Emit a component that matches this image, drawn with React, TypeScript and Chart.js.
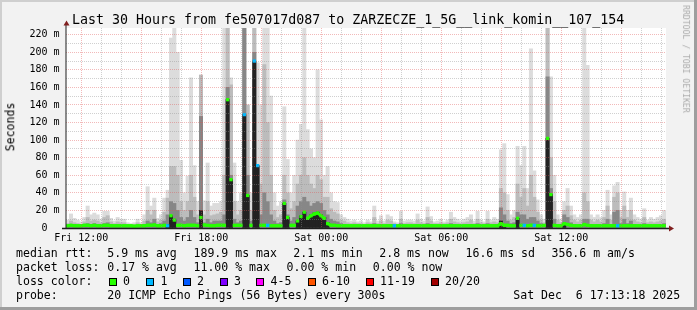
import React, { useEffect, useRef } from 'react';
import { Chart, registerables } from 'chart.js';

Chart.register(...registerables);

const MONO = '"DejaVu Sans Mono", "Liberation Mono", monospace';

const TITLE = 'Last 30 Hours from fe507017d087 to ZARZECZE_1_5G__link_komin__107_154';

// time axis (hours since Fri 00:00), 10-minute bins
const startHour = 11.235;
const endHour = 41.24;
const binHours = 1 / 6;

// smoke: top of the lightest band (max ping), in ms
const sLight = [
  9, 16, 11, 9, 7, 12, 25, 15, 17, 15,
  10, 19, 19, 11, 8, 12, 10, 10, 6, 5,
  6, 10, 6, 15, 47, 25, 34, 11, 15, 34,
  43, 216, 250, 200, 77, 40, 59, 171, 71, 30,
  174, 31, 74, 25, 28, 28, 30, 250, 250, 171,
  74, 30, 40, 250, 140, 40, 250, 188, 140, 250,
  250, 150, 40, 25, 30, 138, 78, 40, 60, 100,
  118, 250, 112, 90, 80, 180, 123, 60, 70, 40,
  30, 29, 15, 12, 10, 8, 9, 7, 8, 6,
  9, 7, 25, 8, 14, 8, 15, 13, 7, 6,
  19, 8, 9, 9, 8, 16, 10, 8, 24, 13,
  7, 8, 10, 7, 9, 18, 12, 10, 8, 10,
  12, 15, 8, 19, 9, 7, 19, 9, 12, 10,
  89, 96, 38, 15, 20, 93, 71, 93, 45, 204,
  65, 32, 15, 10, 250, 172, 60, 15, 10, 30,
  45, 25, 15, 12, 15, 250, 185, 15, 12, 15,
  12, 20, 43, 15, 48, 52, 20, 41, 20, 34,
  15, 12, 10, 22, 9, 12, 10, 12, 14, 20,
];

// smoke: medium band
const sMid = [
  5, 8, 6, 5, 4, 7, 12, 8, 9, 8,
  6, 12, 14, 7, 5, 7, 6, 6, 4, 4,
  4, 6, 4, 8, 20, 15, 20, 7, 9, 18,
  34, 70, 70, 60, 30, 20, 30, 60, 35, 15,
  174, 15, 30, 14, 15, 16, 18, 60, 250, 163,
  30, 15, 20, 250, 140, 20, 250, 70, 50, 186,
  120, 60, 20, 12, 15, 60, 40, 22, 30, 50,
  60, 80, 60, 50, 45, 60, 55, 35, 35, 22,
  18, 16, 9, 8, 6, 5, 6, 5, 5, 4,
  6, 5, 12, 5, 8, 5, 9, 8, 5, 4,
  10, 5, 6, 6, 5, 9, 6, 5, 12, 8,
  5, 5, 6, 5, 6, 10, 7, 6, 5, 6,
  7, 9, 5, 10, 6, 5, 10, 6, 7, 6,
  45, 40, 20, 9, 12, 50, 35, 45, 25, 60,
  35, 18, 9, 6, 250, 80, 30, 9, 6, 20,
  25, 14, 9, 7, 9, 40, 30, 9, 7, 9,
  7, 12, 25, 9, 35, 40, 12, 25, 12, 20,
  9, 7, 6, 12, 6, 7, 6, 7, 8, 10,
];

// smoke: dark band
const sDark = [
  3, 4, 4, 3, 3, 4, 5, 4, 5, 4,
  3, 5, 6, 4, 3, 4, 3, 3, 3, 3,
  3, 3, 3, 4, 8, 6, 10, 4, 5, 8,
  15, 30, 28, 20, 12, 8, 12, 20, 12, 6,
  127, 6, 10, 6, 8, 8, 8, 15, 160, 60,
  10, 6, 8, 250, 60, 8, 200, 30, 15, 40,
  30, 15, 8, 5, 6, 32, 15, 8, 12, 25,
  30, 35, 30, 25, 28, 30, 28, 20, 15, 10,
  8, 7, 5, 4, 3, 3, 3, 3, 3, 3,
  3, 3, 5, 3, 4, 3, 4, 4, 3, 3,
  5, 3, 3, 3, 3, 4, 3, 3, 5, 4,
  3, 3, 3, 3, 3, 5, 4, 3, 3, 3,
  4, 4, 3, 5, 3, 3, 5, 3, 4, 3,
  23, 15, 8, 5, 6, 18, 15, 15, 10, 12,
  12, 8, 5, 4, 172, 45, 10, 4, 3, 15,
  12, 6, 4, 3, 4, 10, 10, 4, 3, 4,
  3, 5, 10, 4, 18, 20, 5, 10, 5, 8,
  4, 3, 3, 5, 3, 3, 3, 3, 4, 5,
];

// smoke: near-black core
const sCore = [
  0, 0, 0, 0, 0, 0, 0, 0, 0, 0,
  0, 0, 0, 0, 0, 0, 0, 0, 0, 0,
  0, 0, 0, 0, 0, 0, 0, 0, 0, 0,
  4, 14, 10, 0, 0, 0, 0, 0, 0, 0,
  20, 0, 0, 0, 0, 0, 0, 0, 146, 55,
  0, 0, 0, 129, 37, 0, 190, 71, 0, 0,
  0, 0, 0, 0, 0, 28, 12, 0, 0, 8,
  14, 18, 12, 15, 17, 18, 15, 12, 6, 0,
  0, 0, 0, 0, 0, 0, 0, 0, 0, 0,
  0, 0, 0, 0, 0, 0, 0, 0, 0, 0,
  0, 0, 0, 0, 0, 0, 0, 0, 0, 0,
  0, 0, 0, 0, 0, 0, 0, 0, 0, 0,
  0, 0, 0, 0, 0, 0, 0, 0, 0, 0,
  8, 3, 0, 0, 0, 11, 0, 0, 0, 0,
  0, 0, 0, 0, 102, 38, 0, 0, 0, 5,
  0, 0, 0, 0, 0, 0, 0, 0, 0, 0,
  0, 0, 0, 0, 0, 0, 0, 0, 0, 0,
  0, 0, 0, 0, 0, 0, 0, 0, 0, 0,
];

// median rtt (ms)
const median = [
  2.5, 3, 2.5, 2.5, 2.5, 3, 3, 2.5, 3, 2.5,
  2.5, 3, 3, 2.5, 2.5, 2.5, 2.5, 2.5, 2.5, 2.5,
  2, 2.5, 2.5, 2.5, 3, 3, 3.5, 2.5, 2.5, 3,
  2.5, 14, 9, 3, 3, 2.5, 3, 3, 3, 2.5,
  12, 3.5, 3, 2.5, 2.5, 3, 3, 3, 146, 55,
  3, 3, 3, 129, 37, 3, 190, 71, 3, 3,
  3, 2.5, 2.5, 2.5, 2.5, 28, 12, 3, 3, 8,
  13, 18, 11, 14, 16, 17, 14, 11, 5, 3,
  3, 2.5, 2.5, 2.5, 2.5, 2.5, 2.5, 2.5, 2.5, 2.5,
  2.5, 2.5, 2.5, 2.5, 2.5, 2.5, 2.5, 2.5, 2.5, 2.5,
  2.5, 2.5, 2.5, 2.5, 2.5, 2.5, 2.5, 2.5, 2.5, 2.5,
  2.5, 2.5, 2.5, 2.5, 2.5, 2.5, 2.5, 2.5, 2.5, 2.5,
  2.5, 2.5, 2.5, 2.5, 2.5, 2.5, 2.5, 2.5, 2.5, 2.5,
  5, 3, 3, 2.5, 2.5, 11, 3, 3, 2.5, 3,
  3, 2.5, 2.5, 3, 102, 38, 3, 2.5, 2.5, 5,
  4, 3, 2.5, 2.5, 2.5, 4, 3, 2.5, 2.5, 2.5,
  2.5, 2.5, 2.5, 2.5, 2.5, 2.5, 2.5, 2.5, 2.5, 2.5,
  2.5, 2.5, 2.5, 2.5, 2.5, 2.5, 2.5, 2.5, 2.5, 2.5,
];

// bins whose median carries a packet-loss colour (index into lossColors)
const lossBins = [30, 53, 56, 57, 60, 98, 137, 140, 165];
const lossLevels = [1, 1, 1, 1, 1, 1, 1, 1, 1];

const lossColors = ['#26ff00', '#00b8ff', '#0059ff', '#7e00ff', '#ff00ff', '#ff5500', '#ff0000', '#a10000'];
const lossLabels = ['0', '1', '2', '3', '4-5', '6-10', '11-19', '20/20'];

const xTickHours = [12, 18, 24, 30, 36];
const xTickLabels = ['Fri 12:00', 'Fri 18:00', 'Sat 00:00', 'Sat 06:00', 'Sat 12:00'];
const yTickValues = [0, 20, 40, 60, 80, 100, 120, 140, 160, 180, 200, 220];
const yTickLabels = ['0  ', '20 m', '40 m', '60 m', '80 m', '100 m', '120 m', '140 m', '160 m', '180 m', '200 m', '220 m'];

const medianStats = ['5.9 ms avg', '189.9 ms max', '2.1 ms min', '2.8 ms now', '16.6 ms sd', '356.6 m am/s'];
const lossStats = ['0.17 % avg', '11.00 % max', '0.00 % min', '0.00 % now'];
const probeText = '20 ICMP Echo Pings (56 Bytes) every 300s';
const stampText = 'Sat Dec  6 17:13:18 2025';

// layout (pixels)
const medianStatX = [107.3, 193.5, 293.3, 379.3, 465.5, 551.5];
const lossStatX = [107.3, 193.5, 286.6, 372.8];
const boxX = [108.5, 146, 182.5, 219.5, 256, 307.5, 365.5, 430.5];
const rowTop = [248, 262, 276, 290];

const GRID = 'rgba(143,143,143,0.42)';
const MGRID = 'rgba(222,79,79,0.4)';

const binTime = sLight.map((_, i) => startHour + (i + 0.5) * binHours);
const lossOf = (i: number) => {
  const k = lossBins.indexOf(i);
  return k === -1 ? 0 : lossLevels[k];
};

const rrdPlugin = {
  id: 'rrdFrame',
  beforeDraw(chart: any) {
    const { ctx, chartArea: a } = chart;
    ctx.save();
    ctx.fillStyle = '#f2f2f2';
    ctx.fillRect(0, 0, chart.width, chart.height);
    ctx.fillStyle = '#ffffff';
    ctx.fillRect(a.left, a.top, a.right - a.left, a.bottom - a.top);
    ctx.restore();
  },
  afterDraw(chart: any) {
    const { ctx, chartArea: a } = chart;
    ctx.save();
    // y axis
    ctx.strokeStyle = '#1f1f1f';
    ctx.lineWidth = 1;
    ctx.beginPath();
    ctx.moveTo(a.left, a.bottom + 1);
    ctx.lineTo(a.left, 24);
    ctx.stroke();
    // x axis
    ctx.lineWidth = 1.4;
    ctx.beginPath();
    ctx.moveTo(a.left - 4, a.bottom + 0.5);
    ctx.lineTo(669, a.bottom + 0.5);
    ctx.stroke();
    // arrows
    ctx.fillStyle = '#801f1f';
    ctx.beginPath();
    ctx.moveTo(a.left + 0.5, 20.5);
    ctx.lineTo(a.left + 3.5, 25.5);
    ctx.lineTo(a.left - 2.5, 25.5);
    ctx.closePath();
    ctx.fill();
    ctx.beginPath();
    ctx.moveTo(674, a.bottom + 0.5);
    ctx.lineTo(669, a.bottom - 2.5);
    ctx.lineTo(669, a.bottom + 3.5);
    ctx.closePath();
    ctx.fill();
    // 3d frame
    ctx.fillStyle = '#cfcfcf';
    ctx.fillRect(0, 0, chart.width, 2);
    ctx.fillRect(0, 0, 2, chart.height);
    ctx.fillStyle = '#9e9e9e';
    ctx.fillRect(chart.width - 3, 0, 3, chart.height);
    ctx.fillRect(0, chart.height - 3, chart.width, 3);
    ctx.restore();
  },
};

function bars(values: number[], color: string, order: number) {
  return {
    type: 'bar' as const,
    data: values.map((v, i) => ({ x: binTime[i], y: v > 0 ? v : null })),
    backgroundColor: color,
    borderWidth: 0,
    grouped: false,
    barPercentage: 1,
    categoryPercentage: 1,
    order,
  };
}

function Txt({ x, y, size, color, children }: any) {
  return (
    <div
      style={{
        position: 'absolute',
        left: x,
        top: y,
        fontFamily: MONO,
        fontSize: size,
        lineHeight: `${size}px`,
        whiteSpace: 'pre',
        color: color || '#000',
      }}
    >
      {children}
    </div>
  );
}

export default function App() {
  const ref = useRef<HTMLCanvasElement>(null);

  useEffect(() => {
    const tickFont = { family: MONO, size: 10 };
    const chart = new Chart(ref.current as HTMLCanvasElement, {
      type: 'bar',
      data: {
        datasets: [
          {
            type: 'line',
            data: median.map((v, i) => ({ x: binTime[i], y: v })),
            borderColor: lossColors[0],
            borderWidth: 3,
            tension: 0,
            fill: false,
            pointStyle: 'rect',
            pointRadius: 2.3,
            pointBorderWidth: 0,
            pointBackgroundColor: median.map((_, i) => lossColors[lossOf(i)]),
            pointBorderColor: median.map((_, i) => lossColors[lossOf(i)]),
            segment: {
              borderColor: (c: any) =>
                Math.abs(median[c.p1DataIndex] - median[c.p0DataIndex]) > 3.5
                  ? 'rgba(0,0,0,0)'
                  : lossColors[lossOf(c.p0DataIndex)],
            },
            order: 0,
          } as any,
          bars(sCore, '#222222', 1),
          bars(sDark, '#878787', 2),
          bars(sMid, '#bcbcbc', 3),
          bars(sLight, '#dcdcdc', 4),
        ] as any,
      },
      options: {
        animation: false,
        responsive: false,
        devicePixelRatio: 1,
        events: [],
        layout: { padding: { left: 0, right: 31, top: 28, bottom: 0 } },
        plugins: {
          legend: { display: false },
          tooltip: { enabled: false },
          title: { display: false },
        },
        scales: {
          x: {
            type: 'linear',
            offset: false,
            min: startHour,
            max: endHour,
            afterFit: (s: any) => {
              s.height = 82;
            },
            ticks: {
              stepSize: 1,
              includeBounds: false,
              autoSkip: false,
              maxRotation: 0,
              minRotation: 0,
              padding: 4,
              color: '#000',
              font: tickFont,
              callback: (v: any) => {
                const k = xTickHours.indexOf(Math.round(Number(v)));
                return k === -1 ? '' : xTickLabels[k];
              },
            },
            grid: {
              offset: false,
              z: 1,
              drawTicks: false,
              lineWidth: 1,
              color: (c: any) => (c.tick && Math.round(c.tick.value) % 3 === 0 ? MGRID : GRID),
            },
            border: { display: false, dash: [1, 1] },
          },
          y: {
            type: 'linear',
            min: 0,
            max: 227.6,
            afterFit: (s: any) => {
              s.width = 66;
            },
            ticks: {
              stepSize: 10,
              includeBounds: false,
              autoSkip: false,
              padding: 6.5,
              color: '#000',
              font: tickFont,
              callback: (v: any) => {
                const k = yTickValues.indexOf(Math.round(Number(v)));
                return k === -1 ? '' : yTickLabels[k];
              },
            },
            grid: {
              z: 1,
              drawTicks: false,
              lineWidth: 1,
              color: (c: any) => (c.tick && Math.round(c.tick.value) % 20 === 0 ? MGRID : GRID),
            },
            border: { display: false, dash: [1, 1] },
          },
        },
      } as any,
      plugins: [rrdPlugin],
    });
    return () => chart.destroy();
  }, []);

  const fs = 11.55;
  return (
    <div style={{ position: 'absolute', left: 0, top: 0, width: 697, height: 310, overflow: 'hidden' }}>
      <canvas ref={ref} width={697} height={310} style={{ position: 'absolute', left: 0, top: 0, width: 697, height: 310 }} />
      <Txt x={72} y={12.8} size={13.3}>{TITLE}</Txt>
      <div
        style={{
          position: 'absolute',
          left: 11.1,
          top: 127,
          transform: 'translate(-50%, -50%) rotate(-90deg)',
          fontFamily: MONO,
          fontSize: fs,
          lineHeight: `${fs}px`,
          whiteSpace: 'pre',
          color: '#000',
        }}
      >
        Seconds
      </div>
      <div
        style={{
          position: 'absolute',
          left: 686.1,
          top: 59,
          transform: 'translate(-50%, -50%) rotate(90deg)',
          fontFamily: MONO,
          fontSize: 8.15,
          lineHeight: '8.15px',
          whiteSpace: 'pre',
          color: '#ababab',
        }}
      >
        RRDTOOL / TOBI OETIKER
      </div>

      <Txt x={16} y={rowTop[0]} size={fs}>median rtt:</Txt>
      {medianStats.map((s, i) => (
        <Txt key={'m' + i} x={medianStatX[i]} y={rowTop[0]} size={fs}>{s}</Txt>
      ))}

      <Txt x={16} y={rowTop[1]} size={fs}>packet loss:</Txt>
      {lossStats.map((s, i) => (
        <Txt key={'l' + i} x={lossStatX[i]} y={rowTop[1]} size={fs}>{s}</Txt>
      ))}

      <Txt x={16} y={rowTop[2]} size={fs}>loss color:</Txt>
      {lossLabels.map((s, i) => (
        <React.Fragment key={'c' + i}>
          <div
            style={{
              position: 'absolute',
              left: boxX[i],
              top: 278,
              width: 8,
              height: 8,
              boxSizing: 'border-box',
              border: '1px solid #000',
              background: lossColors[i],
            }}
          />
          <Txt x={boxX[i] + 14.6} y={rowTop[2]} size={fs}>{s}</Txt>
        </React.Fragment>
      ))}

      <Txt x={16} y={rowTop[3]} size={fs}>probe:</Txt>
      <Txt x={107.3} y={rowTop[3]} size={fs}>{probeText}</Txt>
      <Txt x={513.3} y={rowTop[3]} size={fs}>{stampText}</Txt>
    </div>
  );
}
